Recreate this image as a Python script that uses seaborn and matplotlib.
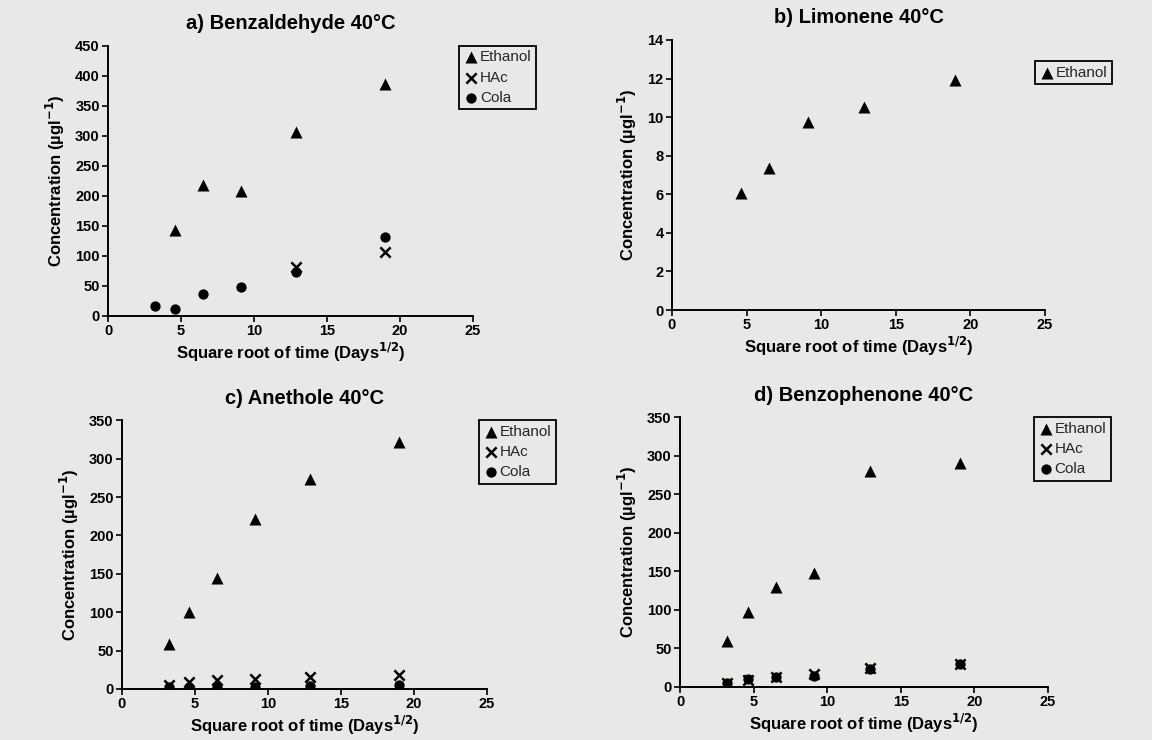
import matplotlib
matplotlib.use("Agg")
import matplotlib.pyplot as plt
import seaborn as sns
import pandas as pd

# Square root of storage time (days^1/2) at each sampling point
sqrt_days = [3.2, 4.6, 6.5, 9.1, 12.9, 19.0]

# a) Benzaldehyde 40°C
benz_eth_x = [4.6, 6.5, 9.1, 12.9, 19.0]
benz_eth_y = [143, 218, 209, 306, 386]
benz_hac_x = [12.9, 19.0]
benz_hac_y = [82, 106]
benz_cola_x = [3.2, 4.6, 6.5, 9.1, 12.9, 19.0]
benz_cola_y = [16, 11, 36, 49, 73, 132]

# b) Limonene 40°C
limo_eth_x = [4.6, 6.5, 9.1, 12.9, 19.0]
limo_eth_y = [6.05, 7.35, 9.75, 10.55, 11.9]

# c) Anethole 40°C
anet_eth_y = [59, 100, 144, 222, 274, 322]
anet_hac_y = [4.5, 8.5, 11.5, 13.5, 15.5, 18.5]
anet_cola_y = [2.5, 2, 2, 3, 3.5, 5]

# d) Benzophenone 40°C
bzph_eth_y = [60, 97, 129, 148, 280, 291]
bzph_hac_y = [5, 9, 13, 17, 24, 30]
bzph_cola_y = [5, 10, 13, 14, 23, 29]

titles = ["a) Benzaldehyde 40°C", "b) Limonene 40°C",
          "c) Anethole 40°C", "d) Benzophenone 40°C"]
y_limits = [450, 14, 350, 350]
y_steps = [50, 2, 50, 50]
x_ticks = [0, 5, 10, 15, 20, 25]

sns.set_theme(style="ticks")
plt.rcParams["font.family"] = ["Liberation Sans", "DejaVu Sans"]
plt.rcParams["mathtext.default"] = "bf"

paper = "#e8e8e6"
fig = plt.figure(figsize=(11.52, 7.40), dpi=100, facecolor=paper)

# axes boxes [left, bottom, width, height] in figure fractions
boxes = [
    [0.0938, 0.573, 0.3168, 0.365],
    [0.5833, 0.581, 0.3238, 0.365],
    [0.1059, 0.069, 0.3168, 0.363],
    [0.5903, 0.072, 0.3194, 0.364],
]
legend_anchor = [(0.962, 1.0), (0.973, 0.922), (0.978, 1.0), (0.962, 1.0)]

def frame(x, y, medium):
    return pd.DataFrame({"x": x, "y": y, "Medium": medium})

panels = [
    [frame(benz_eth_x, benz_eth_y, "Ethanol"),
     frame(benz_hac_x, benz_hac_y, "HAc"),
     frame(benz_cola_x, benz_cola_y, "Cola")],
    [frame(limo_eth_x, limo_eth_y, "Ethanol")],
    [frame(sqrt_days, anet_eth_y, "Ethanol"),
     frame(sqrt_days, anet_hac_y, "HAc"),
     frame(sqrt_days, anet_cola_y, "Cola")],
    [frame(sqrt_days, bzph_eth_y, "Ethanol"),
     frame(sqrt_days, bzph_hac_y, "HAc"),
     frame(sqrt_days, bzph_cola_y, "Cola")],
]

marker_style = {
    "Ethanol": dict(marker="^", s=75, edgecolor="black", linewidth=0),
    "HAc": dict(marker="x", s=55, linewidth=1.8),
    "Cola": dict(marker="o", s=55, edgecolor="black", linewidth=0),
}

for i, (box, series) in enumerate(zip(boxes, panels)):
    ax = fig.add_axes(box)
    ax.set_facecolor("none")
    for df in series:
        name = df["Medium"].iloc[0]
        sns.scatterplot(data=df, x="x", y="y", color="black", ax=ax,
                        label=name, **marker_style[name])
    ax.set_xlim(0, 25)
    ax.set_ylim(0, y_limits[i])
    ax.set_xticks(x_ticks)
    ax.set_yticks(list(range(0, y_limits[i] + 1, y_steps[i])))
    sns.despine(ax=ax)
    for side in ("left", "bottom"):
        ax.spines[side].set_color("black")
        ax.spines[side].set_linewidth(1.4)
    ax.tick_params(axis="both", direction="out", length=4, width=1.2,
                   colors="black", labelsize=10.5, pad=2)
    for lab in ax.get_xticklabels() + ax.get_yticklabels():
        lab.set_fontweight("bold")
    ax.set_xlabel("Square root of time (Days$^{1/2}$)", fontsize=12,
                  fontweight="bold", color="black", labelpad=2)
    ax.set_ylabel("Concentration (µgl$^{-1}$)", fontsize=12,
                  fontweight="bold", color="black", labelpad=6)
    ax.set_title(titles[i], fontsize=14.5, fontweight="bold",
                 color="black", pad=12)
    leg = ax.legend(loc="upper left", bbox_to_anchor=legend_anchor[i],
                    frameon=True, fancybox=False, framealpha=1,
                    facecolor="none", edgecolor="black", fontsize=11,
                    handletextpad=0.05, handlelength=1.0, borderpad=0.3,
                    labelspacing=0.4, borderaxespad=0)
    leg.get_frame().set_linewidth(1.3)

fig.savefig("out.png", dpi=100, facecolor=paper)
